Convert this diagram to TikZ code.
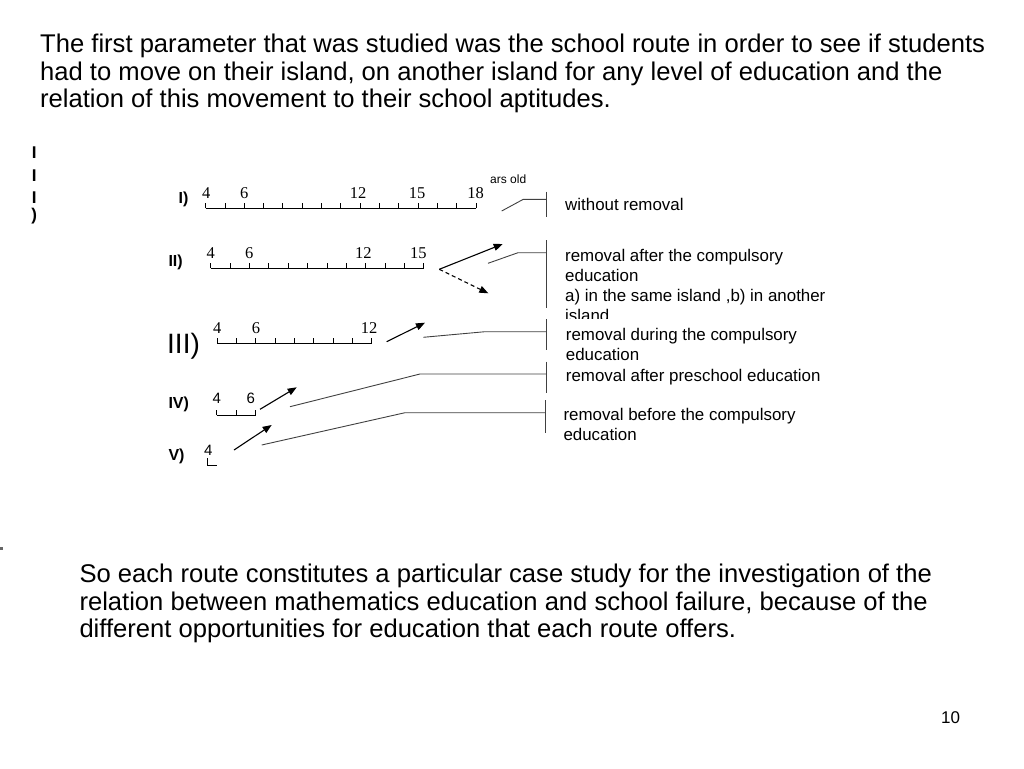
\documentclass[tikz,border=0pt]{standalone}
\usepackage{fontspec}
\setmainfont{Liberation Sans}
\newfontfamily\serifdig{Liberation Serif}
\usetikzlibrary{arrows.meta}
\begin{document}
\begin{tikzpicture}[x=1pt,y=-1pt,
  body/.style={anchor=base west, inner sep=0, font=\fontsize{25.6}{28}\selectfont},
  side/.style={anchor=base west, inner sep=0, font=\fontsize{16.9}{20}\selectfont},
  rn/.style={anchor=base west, inner sep=0, font=\fontsize{16}{18}\bfseries\selectfont},
  dig/.style={anchor=base, inner sep=0, font=\fontsize{16.5}{18}\serifdig\selectfont},
  digs/.style={anchor=base, inner sep=0, font=\fontsize{15}{17}\selectfont},
  rul/.style={line width=1pt},
  arr/.style={line width=1.1pt, -{Triangle[length=9pt,width=7pt]}},
  lead/.style={line width=0.9pt, draw=black!75},
]
\useasboundingbox (0,0) rectangle (1024,768);

% top text
\node[body] (t1) at (40,52.3) {The first parameter that was studied was the school route in order to see if students};
\node[body] (t2) at (40,80) {had to move on their island, on another island for any level of education and the};
\node[body] (t3) at (40,107.7) {relation of this movement to their school aptitudes.};

% left vertical letters
\node[anchor=base, inner sep=0, font=\fontsize{17}{19}\bfseries\selectfont] (v1) at (34.3,158) {I};
\node[anchor=base, inner sep=0, font=\fontsize{17}{19}\bfseries\selectfont] (v2) at (34.3,181) {I};
\node[anchor=base, inner sep=0, font=\fontsize{17}{19}\bfseries\selectfont] (v3) at (34.3,203) {I};
\node[anchor=base, inner sep=0, font=\fontsize{17}{19}\bfseries\selectfont] (v4) at (34.3,220) {)};
\fill[black!60] (0,547) rectangle (3,549.5);

% roman numerals
\node[rn] (r1) at (178.5,203.3) {I)};
\node[rn] (r2) at (168.3,266.7) {II)};
\node[anchor=base west, inner sep=0, font=\fontsize{28}{30}\selectfont] (r3) at (167,353.3) {III)};
\node[rn] (r4) at (168.3,408.3) {IV)};
\node[rn] (r5) at (168.3,460) {V)};

\node[anchor=base west, inner sep=0, font=\fontsize{12}{14}\selectfont] (yo) at (490,183.3) {ars old};

% ruler I
\draw[rul] (205.7,208.3) -- (476,208.3);
\foreach \i in {0,...,14} \draw[rul] (205.7+\i*19.307,208.3) -- ++(0,-5);
\foreach \v/\x in {4/206.3,6/244.3,12/358,15/417,18/475.7} \node[dig] at (\x,198.8) {\v};

% ruler II
\draw[rul] (210.7,268.3) -- (424,268.3);
\foreach \i in {0,...,11} \draw[rul] (210.7+\i*19.39,268.3) -- ++(0,-5);
\foreach \v/\x in {4/210.7,6/249.3,12/363.3,15/418.3} \node[dig] at (\x,258.8) {\v};

% ruler III
\draw[rul] (217.3,343.3) -- (371.7,343.3);
\foreach \i in {0,...,8} \draw[rul] (217.3+\i*19.3,343.3) -- ++(0,-5);
\foreach \v/\x in {4/217.3,6/256,12/369} \node[dig] at (\x,333.8) {\v};

% ruler IV
\draw[rul] (216.7,415) -- (255.7,415);
\foreach \i in {0,1,2} \draw[rul] (216.7+\i*19.5,415) -- ++(0,-5);
\foreach \v/\x in {4/216.7,6/250.7} \node[digs] at (\x,403.3) {\v};

% ruler V
\draw[rul] (207.7,458) -- (207.7,465) -- (217.3,465);
\node[digs] at (208.3,455) {4};

% arrows
\coordinate (a2s) at (439.3,269.3);
\coordinate (a2e) at (502.7,244);
\coordinate (a2d) at (488.3,293.3);
\draw[arr] (a2s) -- (a2e);
\draw[arr, dash pattern=on 4pt off 3pt] (a2s) -- (a2d);
\coordinate (a3s) at (386.7,341.7);
\coordinate (a3e) at (425,322.7);
\draw[arr] (a3s) -- (a3e);
\coordinate (a4s) at (260,409.3);
\coordinate (a4e) at (296.7,387.3);
\draw[arr] (a4s) -- (a4e);
\coordinate (a5s) at (234,450);
\coordinate (a5e) at (271.7,425);
\draw[arr] (a5s) -- (a5e);

% brackets and leaders
\draw[lead] (546.7,191.7) -- (546.7,217.3);
\draw[lead] (501.7,211) -- (523.3,199.3) -- (546.7,199.3);
\draw[lead] (546.7,240) -- (546.7,308);
\draw[lead] (488,263.3) -- (518,252.7) -- (546.7,252.7);
\draw[lead] (546.7,319.3) -- (546.7,350);
\draw[lead] (423.3,337.3) -- (485,331.7) -- (546.7,331.7);
\draw[lead] (546.7,361.7) -- (546.7,392.7);
\draw[lead] (290,406.7) -- (420,374) -- (546.7,374);
\draw[lead] (545,400) -- (545,433.3);
\draw[lead] (261.7,445) -- (405,412.7) -- (545,412.7);

% side texts
\node[side] (s1) at (565,210) {without removal};
\begin{scope}
\clip (555,240) rectangle (860,318);
\node[side] (s2a) at (565,261.7) {removal after the compulsory};
\node[side] (s2b) at (565,281.7) {education};
\node[side] (s2c) at (565,301.7) {a) in the same island ,b) in another};
\node[side] (s2d) at (565,321.7) {island};
\end{scope}
\node[side] (s3a) at (565.7,340.7) {removal during the compulsory};
\node[side] (s3b) at (565.7,360.7) {education};
\node[side] (s4) at (565.7,381.7) {removal after preschool education};
\node[side] (s5a) at (563.3,420.7) {removal before the compulsory};
\node[side] (s5b) at (563.3,440.7) {education};

% bottom text
\node[body] (b1) at (79.3,582.3) {So each route constitutes a particular case study for the investigation of the};
\node[body] (b2) at (79.3,610) {relation between mathematics education and school failure, because of the};
\node[body] (b3) at (79.3,637.7) {different opportunities for education that each route offers.};

\node[anchor=base west, inner sep=0, font=\fontsize{17}{19}\selectfont] (pg) at (941,723.3) {10};
\end{tikzpicture}
\end{document}
